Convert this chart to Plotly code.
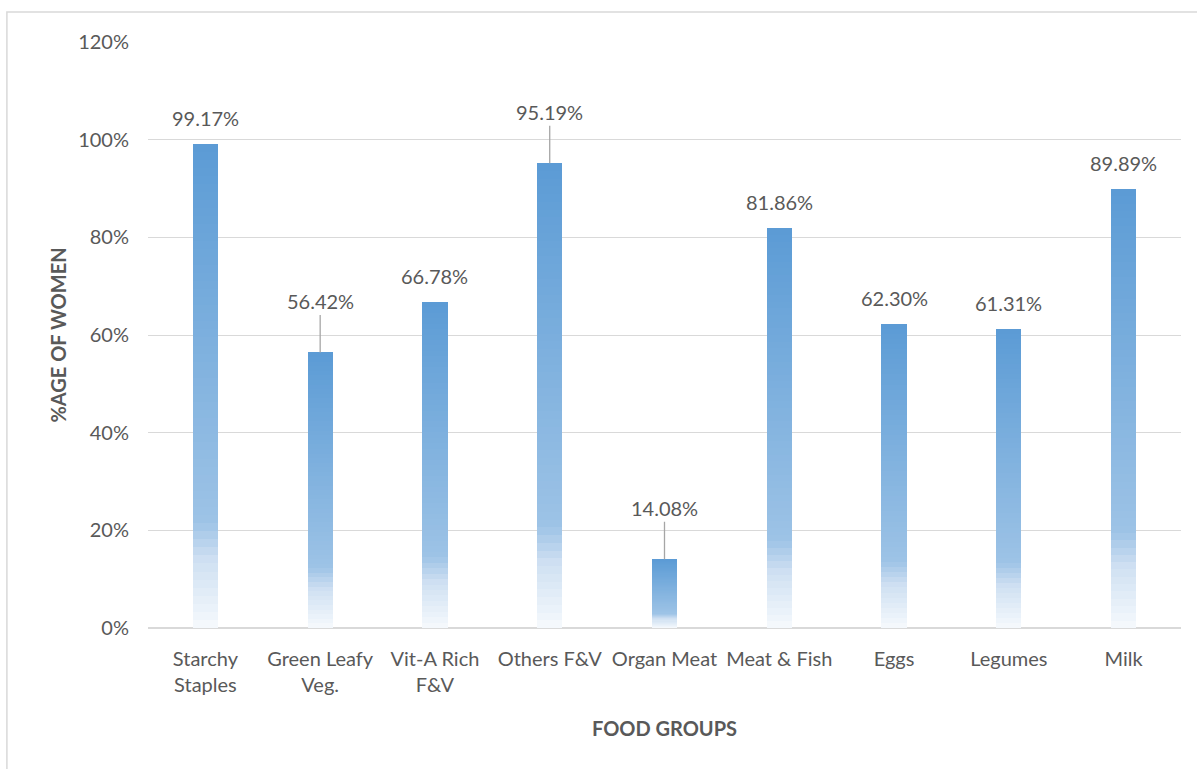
import plotly.graph_objects as go

categories = ["Starchy<br>Staples", "Green Leafy<br>Veg.", "Vit-A Rich<br>F&V", "Others F&V",
              "Organ Meat", "Meat & Fish", "Eggs", "Legumes", "Milk"]
values = [99.17, 56.42, 66.78, 95.19, 14.08, 81.86, 62.30, 61.31, 89.89]
labels = ["99.17%", "56.42%", "66.78%", "95.19%", "14.08%", "81.86%", "62.30%", "61.31%", "89.89%"]
leader = [False, True, False, True, True, False, False, False, False]
tick_vals = [0, 20, 40, 60, 80, 100, 120]
tick_text = ["0%", "20%", "40%", "60%", "80%", "100%", "120%"]

FONT = "Lato"
TXT = "#595959"
FS = 20

stops = [(0.0, (0x5B, 0x9B, 0xD5)), (0.78, (0x9D, 0xC3, 0xE6)),
         (0.86, (0xCF, 0xE0, 0xF2)), (1.0, (0xF6, 0xF9, 0xFD))]


def grad(t):
    for (t0, c0), (t1, c1) in zip(stops[:-1], stops[1:]):
        if t0 <= t <= t1:
            f = (t - t0) / (t1 - t0)
            return "rgb(%d,%d,%d)" % tuple(round(a + (b - a) * f) for a, b in zip(c0, c1))
    return "rgb(%d,%d,%d)" % stops[-1][1]


N = 60
fig = go.Figure()
for i in range(N):
    t = 1 - (i + 0.5) / N
    fig.add_trace(go.Bar(
        x=categories, y=[v / N for v in values],
        marker=dict(color=grad(t), line=dict(width=0)),
        hoverinfo="skip", showlegend=False,
    ))

for c, v, lab, ld in zip(categories, values, labels, leader):
    if ld:
        fig.add_annotation(x=c, y=v, text=lab, showarrow=True, arrowhead=0,
                           arrowwidth=1.3, arrowcolor="#A6A6A6", ax=0, ay=-51,
                           font=dict(family=FONT, size=FS, color=TXT))
    else:
        fig.add_annotation(x=c, y=v, text=lab, showarrow=False, yshift=26,
                           font=dict(family=FONT, size=FS, color=TXT))

fig.add_shape(type="rect", xref="paper", yref="paper",
              x0=-0.1366, x1=1.05, y0=-0.3, y1=1.0512,
              line=dict(color="#D9D9D9", width=1.5), fillcolor="rgba(0,0,0,0)")

fig.update_layout(
    width=1197, height=769,
    margin=dict(l=148, r=16, t=42, b=141),
    paper_bgcolor="white", plot_bgcolor="white",
    barmode="stack", bargap=0.78,
    font=dict(family=FONT, color=TXT),
    xaxis=dict(showgrid=False, showline=False, ticks="", ticklabelstandoff=17,
               tickfont=dict(family=FONT, size=FS, color=TXT),
               title=dict(text="<b>FOOD GROUPS</b>", font=dict(family=FONT, size=FS, color=TXT),
                          standoff=26)),
    yaxis=dict(range=[0, 120], tickvals=tick_vals, ticktext=tick_text,
               showgrid=True, gridcolor="#D9D9D9", gridwidth=1,
               zeroline=True, zerolinecolor="#D9D9D9", zerolinewidth=2,
               showline=False, ticks="", ticklabelstandoff=18,
               tickfont=dict(family=FONT, size=FS, color=TXT),
               title=dict(text="<b>%AGE OF WOMEN</b>", font=dict(family=FONT, size=FS, color=TXT),
                          standoff=6)),
)

fig.write_html("out.html")
